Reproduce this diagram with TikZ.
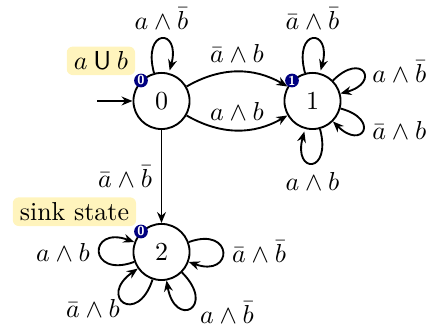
\documentclass[tikz,border=0pt]{standalone}
\usepackage{amsmath,amssymb}
\usetikzlibrary{arrows.meta,positioning}
\definecolor{Navy}{HTML}{000080}
\definecolor{NoteFill}{HTML}{FFF4BD}

\begin{document}
\begin{tikzpicture}[x=0.385pt,y=0.385pt,line width=0.72pt,
    >={Stealth[length=4.2pt,width=3.4pt]},
    state/.style={circle,draw,minimum size=21.6pt,inner sep=0pt},
    accbadge/.style={circle,fill=Navy,text=white,inner sep=0pt,
                     minimum size=5.3pt,font=\sffamily\bfseries\tiny},
    note/.style={rounded corners=2.3pt,fill=NoteFill,inner xsep=2.7pt,inner ysep=2pt}]
  \useasboundingbox (0,0) rectangle (441,327);
  % states
  \node[state] (q0) at (161.5,226) {$0$};
  \node[state] (q1) at (312.5,226) {$1$};
  \node[state] (q2) at (161.5,75) {$2$};
  \node[note,anchor=south east] (lab0) at (136,251) {$a \mathbin{\mathsf{U}} b$};
  \node[note,anchor=south east] (lab2) at (137,100) {sink state};
  \coordinate (init) at (97,226);
  \draw[->] (init) -- (q0);

  % transitions
  \path[->]
    (q0) edge[loop above] node[above] {$a\land\bar b$} (q0)
         edge[bend left=30] node[above] {$\bar a\land b$} (q1)
         edge[bend right=30] node[above] {$a\land b$} (q1)
         edge node[left] {$\bar a\land\bar b$} (q2)
    (q1) edge[loop above] node[above] {$\bar a\land\bar b$} (q1)
         edge[loop,out=45,in=15,distance=16pt] node[right] {$a\land\bar b$} (q1)
         edge[loop,out=-15,in=-45,distance=16pt] node[right] {$\bar a\land b$} (q1)
         edge[loop below] node[below] {$a\land b$} (q1)
    (q2) edge[loop,out=200,in=160,distance=19pt] node[left] {$a\land b$} (q2)
         edge[loop,out=20,in=-20,distance=18.5pt] node[right] {$\bar a\land\bar b$} (q2)
         edge[loop,out=-108,in=-145,distance=19pt]
           node[left,xshift=2pt,yshift=-2.2pt] {$\bar a\land b$} (q2)
         edge[loop,out=-45,in=-80,distance=19pt]
           node[right,yshift=-2pt] {$a\land\bar b$} (q2);

  % acceptance marks
  \node[accbadge] (b0) at (q0.135) {0};
  \node[accbadge] (b1) at (q1.135) {1};
  \node[accbadge] (b2) at (q2.135) {0};
\end{tikzpicture}
\end{document}
